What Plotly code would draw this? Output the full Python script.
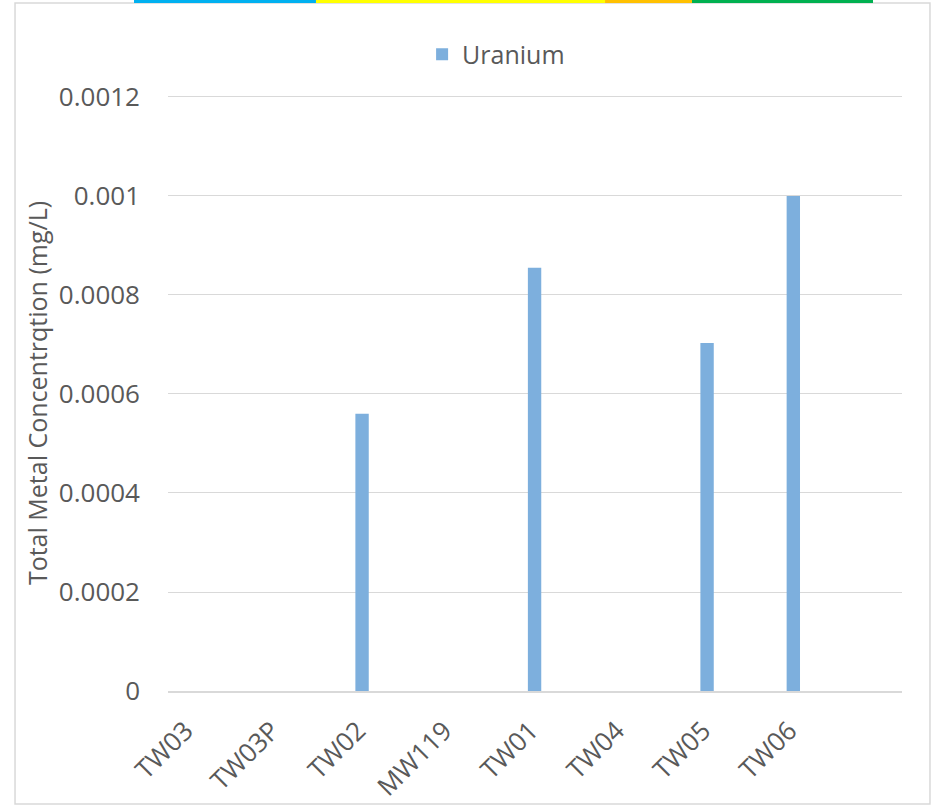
import plotly.graph_objects as go

# wells along the x axis and the uranium result at each (mg/L)
wells = ["TW03", "TW03P", "TW02", "MW119", "TW01", "TW04", "TW05", "TW06"]
uranium = [None, None, 0.00056, None, 0.000855, None, 0.000703, 0.001]

y_ticks = [0, 0.0002, 0.0004, 0.0006, 0.0008, 0.001, 0.0012]
y_tick_text = ["0", "0.0002", "0.0004", "0.0006", "0.0008", "0.001", "0.0012"]

grey_text = "#595959"
grid_grey = "#d9d9d9"
font_name = "Open Sans"
fs = 26

fig = go.Figure()
fig.add_trace(go.Bar(
    x=wells,
    y=uranium,
    name="Uranium",
    marker=dict(color="#7dafdd", line=dict(width=0)),
    width=0.155,
))

fig.update_layout(
    width=937,
    height=806,
    margin=dict(l=168, r=35, t=95, b=115),
    paper_bgcolor="white",
    plot_bgcolor="white",
    font=dict(family=font_name, size=fs, color=grey_text),
    showlegend=True,
    legend=dict(
        orientation="h",
        x=0.447, xanchor="center",
        y=1.068, yanchor="middle",
        font=dict(size=25, color=grey_text),
        bgcolor="rgba(0,0,0,0)",
    ),
    xaxis=dict(
        range=[-0.25, 8.26],
        automargin=False,
        tickangle=-45,
        showgrid=False,
        showline=True,
        linecolor=grid_grey,
        linewidth=2,
        ticks="",
        ticklabelstandoff=12,
        ticklabelshift=-4,
        tickfont=dict(size=fs, color=grey_text),
    ),
    yaxis=dict(
        range=[0, 0.001204],
        automargin=False,
        tickvals=y_ticks,
        ticktext=y_tick_text,
        showgrid=True,
        gridcolor=grid_grey,
        gridwidth=1.3,
        zeroline=False,
        showline=False,
        ticks="",
        ticklabelstandoff=27,
        tickfont=dict(size=fs, color=grey_text),
        title=dict(
            text="Total Metal Concentrqtion (mg/L)",
            font=dict(size=25, color=grey_text),
            standoff=4,
        ),
    ),
)

# outer chart frame and the coloured header strips above it
shapes = [
    dict(type="rect", xref="paper", yref="paper",
         x0=-0.2084, x1=1.0381, y0=-0.1896, y1=1.1544,
         line=dict(color=grid_grey, width=1.5), fillcolor="rgba(0,0,0,0)",
         layer="below"),
]
strips = [(-0.0463, 0.2016, "#00b0f0"), (0.2016, 0.5954, "#ffff00"),
          (0.5954, 0.7139, "#ffc000"), (0.7139, 0.9605, "#00b050")]
for x0, x1, col in strips:
    shapes.append(dict(type="rect", xref="paper", yref="paper",
                       x0=x0, x1=x1, y0=1.1544, y1=1.1594,
                       line=dict(width=0), fillcolor=col))
fig.update_layout(shapes=shapes)

# page body margin would push the figure 8px off the corner
fig.write_html("out.html", config={"displayModeBar": False},
               post_script="document.body.style.margin='0';")
